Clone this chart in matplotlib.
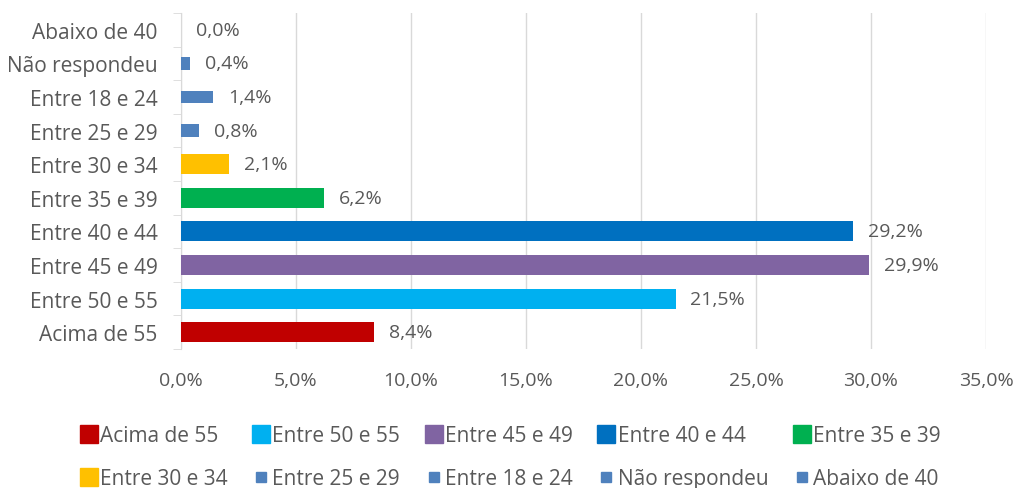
import matplotlib.pyplot as plt
from matplotlib.lines import Line2D

# dados (de cima para baixo no grafico)
categorias = ["Abaixo de 40", "Não respondeu", "Entre 18 e 24", "Entre 25 e 29",
              "Entre 30 e 34", "Entre 35 e 39", "Entre 40 e 44", "Entre 45 e 49",
              "Entre 50 e 55", "Acima de 55"]
valores = [0.0, 0.4, 1.4, 0.8, 2.1, 6.2, 29.2, 29.9, 21.5, 8.4]
cores = ["#4F81BD", "#4F81BD", "#4F81BD", "#4F81BD", "#FFC000", "#00B050",
         "#0070C0", "#8064A2", "#00B0F0", "#C00000"]
finos = [True, True, True, True, False, False, False, False, False, False]

plt.rcParams['font.family'] = ['Open Sans', 'DejaVu Sans']
cinza = "#595959"

fig = plt.figure(figsize=(10.18, 4.89), dpi=100)
ax = fig.add_axes([181/1018, 1 - 350/489, (986-181)/1018, (350-14)/489])

n = len(categorias)
for i, (c, v, cor, f) in enumerate(zip(categorias, valores, cores, finos)):
    y = n - 1 - i
    h = 0.38 if f else 0.6
    ax.barh(y, v, height=h, color=cor, zorder=3)
    ax.text(v + 0.65, y, f"{v:.1f}%".replace(".", ","), va="center", ha="left",
            fontsize=14, color=cinza)

ax.set_xlim(0, 35)
ax.set_ylim(-0.5, n - 0.5)
ax.set_yticks(range(n))
ax.set_yticklabels(categorias[::-1], fontsize=15, color=cinza)
ax.set_xticks(range(0, 36, 5))
ax.set_xticklabels([f"{x:.1f}%".replace(".", ",") for x in range(0, 36, 5)],
                   fontsize=14, color=cinza)
ax.tick_params(axis="x", length=0, pad=16)
ax.tick_params(axis="y", which="major", length=0, pad=17)
ax.set_yticks([k - 0.5 for k in range(n + 1)], minor=True)
ax.tick_params(axis="y", which="minor", length=6, color="#D9D9D9")
ax.grid(axis="x", color="#D9D9D9", linewidth=1, zorder=0)
for s in ["top", "right", "bottom"]:
    ax.spines[s].set_visible(False)
ax.spines["left"].set_color("#D9D9D9")

# legenda
ordem = categorias[::-1]
handles = []
for c in ordem:
    i = categorias.index(c)
    ms = 7 if finos[i] else 13
    handles.append(Line2D([], [], marker="s", linestyle="none", markersize=ms,
                          markerfacecolor=cores[i], markeredgecolor=cores[i], label=c))
idx = [0, 5, 1, 6, 2, 7, 3, 8, 4, 9]
leg = fig.legend([handles[k] for k in idx], [ordem[k] for k in idx], ncol=5,
                 loc="center", bbox_to_anchor=(0.502, 1 - 458/489), frameon=False,
                 fontsize=15, handlelength=0.7, handletextpad=0.2, columnspacing=1.25,
                 labelspacing=1.05, labelcolor=cinza)

fig.savefig("out.png", dpi=100)
